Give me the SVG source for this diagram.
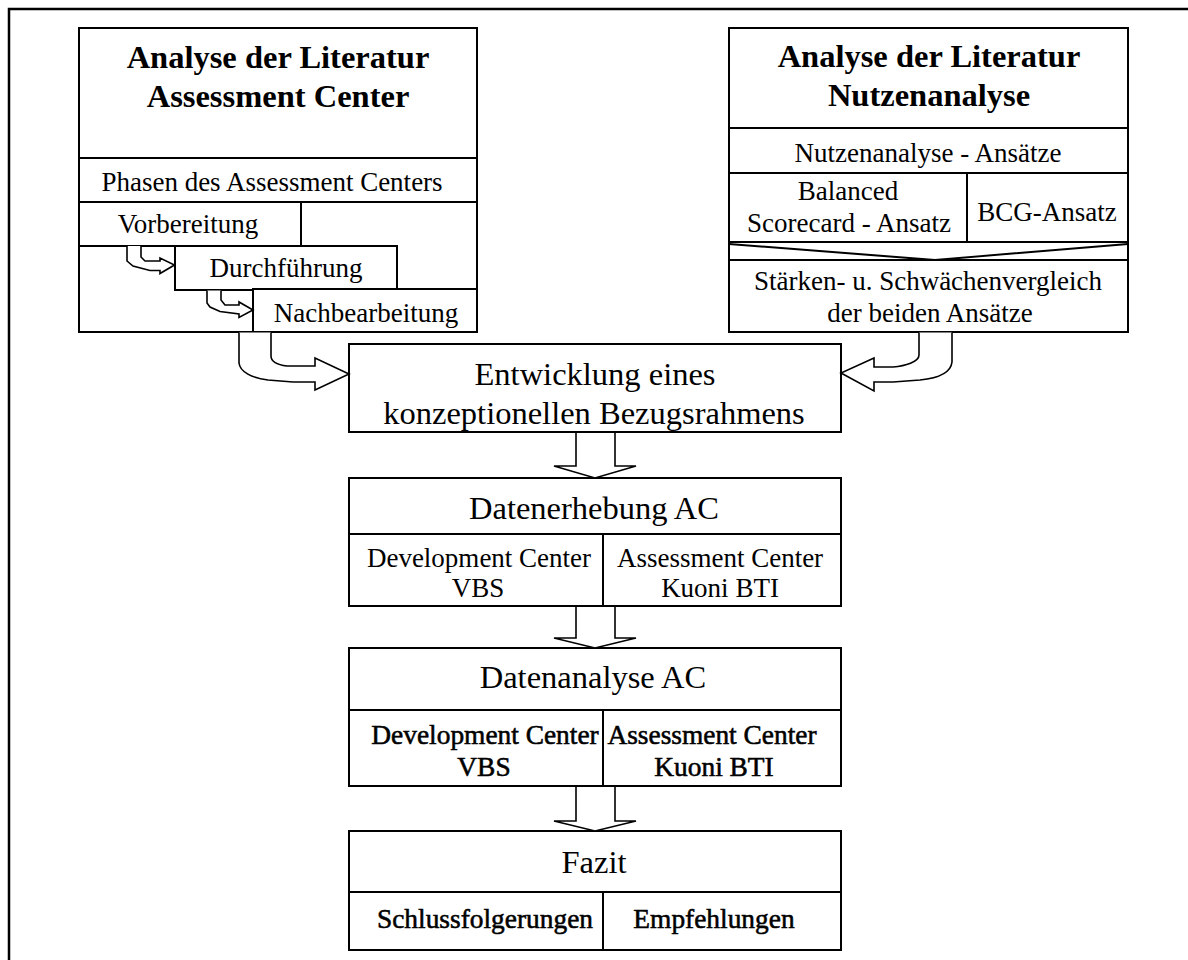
<svg xmlns="http://www.w3.org/2000/svg" width="1188" height="960" viewBox="0 0 1188 960">
<style>
.box{fill:#fff;stroke:#000;stroke-width:2}
.ln{fill:none;stroke:#000;stroke-width:2}
.arr{fill:#fff;stroke:#000;stroke-width:1.6;stroke-linejoin:miter}
text{font-family:"Liberation Serif","Times New Roman",serif;fill:#000;text-anchor:middle}
.tb{font-size:32.5px;font-weight:bold}
.tl{font-size:32.5px}
.ts{font-size:27px}
.tsb{font-size:27.4px;stroke:#000;stroke-width:0.55px}
</style>
<rect width="1188" height="960" fill="#fff"/>
<path d="M9,962 V9 H1190" fill="none" stroke="#000" stroke-width="2.5"/>

<g id="lit-ac">
<rect class="box" x="79" y="28" width="398" height="304"/>
<line class="ln" x1="79" y1="158" x2="477" y2="158"/>
<line class="ln" x1="79" y1="202" x2="477" y2="202"/>
<text class="tb" x="278" y="68">Analyse der Literatur</text>
<text class="tb" x="278" y="107">Assessment Center</text>
<text class="ts" x="272" y="191">Phasen des Assessment Centers</text>
</g>
<g id="vorbereitung">
<rect class="box" x="79" y="202" width="222" height="44"/>
<text class="ts" x="188" y="233">Vorbereitung</text>
</g>
<g id="durchfuehrung">
<rect class="box" x="175" y="246" width="222" height="44"/>
<text class="ts" x="286" y="277">Durchführung</text>
</g>
<g id="nachbearbeitung">
<rect class="box" x="253" y="289" width="224" height="43"/>
<text class="ts" x="366" y="322">Nachbearbeitung</text>
</g>

<g id="lit-nutzen">
<rect class="box" x="729" y="28" width="399" height="304"/>
<line class="ln" x1="729" y1="128" x2="1128" y2="128"/>
<line class="ln" x1="729" y1="173" x2="1128" y2="173"/>
<line class="ln" x1="967" y1="173" x2="967" y2="242"/>
<line class="ln" x1="729" y1="242" x2="1128" y2="242"/>
<polyline class="ln" stroke-width="1.6" points="729,244 935,260 1128,244"/>
<line class="ln" x1="729" y1="260" x2="1128" y2="260"/>
<text class="tb" x="929" y="67">Analyse der Literatur</text>
<text class="tb" x="929" y="106">Nutzenanalyse</text>
<text class="ts" x="928" y="162">Nutzenanalyse - Ansätze</text>
<text class="ts" x="848" y="200">Balanced</text>
<text class="ts" x="849" y="232">Scorecard - Ansatz</text>
<text class="ts" x="1047" y="221">BCG-Ansatz</text>
<text class="ts" x="928" y="290">Stärken- u. Schwächenvergleich</text>
<text class="ts" x="930" y="322">der beiden Ansätze</text>
</g>

<g id="entwicklung">
<rect class="box" x="349" y="344" width="492" height="88"/>
<text class="tl" x="595" y="385">Entwicklung eines</text>
<text class="tl" x="594" y="424">konzeptionellen Bezugsrahmens</text>
</g>

<g id="datenerhebung">
<rect class="box" x="349" y="478" width="492" height="128"/>
<line class="ln" x1="349" y1="534" x2="841" y2="534"/>
<line class="ln" x1="603" y1="534" x2="603" y2="606"/>
<text class="tl" x="594" y="519">Datenerhebung AC</text>
<text class="ts" x="479" y="567">Development Center</text>
<text class="ts" x="478" y="597">VBS</text>
<text class="ts" x="720" y="567">Assessment Center</text>
<text class="ts" x="720" y="597">Kuoni BTI</text>
</g>

<g id="datenanalyse">
<rect class="box" x="349" y="648" width="492" height="138"/>
<line class="ln" x1="349" y1="710" x2="841" y2="710"/>
<line class="ln" x1="603" y1="710" x2="603" y2="786"/>
<text class="tl" x="593" y="688">Datenanalyse AC</text>
<text class="tsb" x="485" y="744">Development Center</text>
<text class="tsb" x="484" y="776">VBS</text>
<text class="tsb" x="712" y="744">Assessment Center</text>
<text class="tsb" x="714" y="776">Kuoni BTI</text>
</g>

<g id="fazit">
<rect class="box" x="349" y="831" width="492" height="119"/>
<line class="ln" x1="349" y1="892" x2="841" y2="892"/>
<line class="ln" x1="603" y1="892" x2="603" y2="950"/>
<text class="tl" x="594" y="873">Fazit</text>
<text class="tsb" x="485" y="928">Schlussfolgerungen</text>
<text class="tsb" x="714" y="928">Empfehlungen</text>
</g>

<g id="connectors">
<path class="arr" d="M127,246 V261 L133,266 L150,270.5 H160 V273.5 L174.5,265 L160,258 V261 H145 L141,257 V246"/>
<path class="arr" d="M207,290.5 V303 L210,307 L220,311.5 L239,314 V317.5 L253,310 L239,302 V305 H225 L221,300 V290.5"/>
<path class="arr" d="M239,332.5 V363 C240,372 252,378 268,380 L293,382 H315 V390 L349,374 L315,358 V366 H287 C279,365 271,362 271,356 V332.5"/>
<path class="arr" d="M952,332.5 V362 C951,372 940,378 920,380 L893,382 H874 V391 L841,373 L874,358 V367 H893 C905,366 919,362 919,355 V332.5"/>
<path class="arr" d="M576,433 V466 H554 L595,478 L636,466 H615 V433"/>
<path class="arr" d="M576,607 V638 H554 L595,648 L636,638 H615 V607"/>
<path class="arr" d="M576,787 V821 H554 L595,831 L636,821 H615 V787"/>
</g>
</svg>
